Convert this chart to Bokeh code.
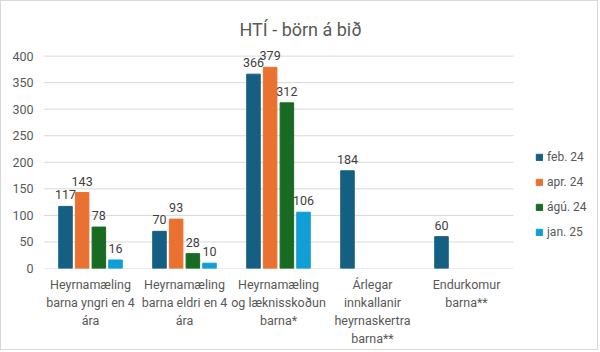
import math
from bokeh.plotting import figure
from bokeh.models import Range1d, ColumnDataSource, Legend, LegendItem, FixedTicker
from bokeh.embed import file_html
from bokeh.resources import INLINE
from bokeh.core.properties import value

categories = [
    "Heyrnamæling\nbarna yngri en 4\nára",
    "Heyrnamæling\nbarna eldri en 4\nára",
    "Heyrnamæling\nog læknisskoðun\nbarna*",
    "Árlegar\ninnkallanir\nheyrnaskertra\nbarna**",
    "Endurkomur\nbarna**",
]
series_names = ["feb. 24", "apr. 24", "ágú. 24", "jan. 25"]
feb_24 = [117, 70, 366, 184, 60]
apr_24 = [143, 93, 379, float("nan"), float("nan")]
agu_24 = [78, 28, 312, float("nan"), float("nan")]
jan_25 = [16, 10, 106, float("nan"), float("nan")]
series_values = [feb_24, apr_24, agu_24, jan_25]
y_ticks = [0, 50, 100, 150, 200, 250, 300, 350, 400]
colors = ["#156082", "#E97132", "#196B24", "#0F9ED5"]
offsets = [-0.266, -0.089, 0.089, 0.266]

FONT = "Roboto"
n = len(categories)
centers = [i + 0.5 for i in range(n)]

# plot area: categories occupy 470px; the frame also spans the legend area
cat_px = 470.0
frame_px = 556.0
p = figure(
    x_range=Range1d(0, n * frame_px / cat_px),
    y_range=Range1d(0, 420),
    width=598, height=350,
    output_backend="svg", toolbar_location=None,
    min_border_left=42, min_border_right=0,
    min_border_top=44, min_border_bottom=83,
)
p.styles = {"border": "1px solid #d9d9d9"}
p.outline_line_color = None
p.background_fill_color = "white"
p.border_fill_color = "white"

p.title.text = "HTÍ - börn á bið"
p.title.align = "left"
p.title.offset = 196
p.title.text_font = FONT
p.title.text_font_size = "18px"
p.title.text_font_style = "normal"
p.title.text_color = "#595959"
p.title.standoff = 12

p.xgrid.grid_line_color = None
p.ygrid.grid_line_color = None
# horizontal gridlines limited to the category area
p.segment(x0=[0] * len(y_ticks), x1=[n] * len(y_ticks), y0=y_ticks, y1=y_ticks,
          line_color="#d9d9d9", line_width=1)

p.yaxis.ticker = FixedTicker(ticks=y_ticks)
p.xaxis.ticker = FixedTicker(ticks=centers)
p.xaxis.major_label_overrides = {c: lab for c, lab in zip(centers, categories)}
for ax in (p.xaxis, p.yaxis):
    ax.axis_line_color = None
    ax.major_tick_line_color = None
    ax.minor_tick_line_color = None
    ax.major_tick_out = 0
    ax.major_tick_in = 0
    ax.minor_tick_out = 0
    ax.major_label_text_font = FONT
    ax.major_label_text_font_size = "12.5px"
    ax.major_label_text_color = "#595959"
p.yaxis.major_label_standoff = 10
p.xaxis.major_label_standoff = 8

items = []
for name, vals, col, off in zip(series_names, series_values, colors, offsets):
    xs = [c + off for c in centers]
    src = ColumnDataSource(dict(x=xs, top=vals))
    r = p.vbar(x="x", top="top", width=0.144, source=src,
               fill_color=col, line_color=col)
    items.append(LegendItem(label=name, renderers=[r]))
    lx = [x for x, v in zip(xs, vals) if not math.isnan(v)]
    ly = [v for v in vals if not math.isnan(v)]
    lsrc = ColumnDataSource(dict(x=lx, y=ly, t=[str(int(v)) for v in ly]))
    p.text(x="x", y="y", text="t", source=lsrc,
           text_align="center", text_baseline="bottom", y_offset=-7,
           text_font=value(FONT), text_font_size="12.5px", text_color="#404040")

legend = Legend(items=items, location=(492, 29))
legend.border_line_color = None
legend.background_fill_alpha = 0
legend.glyph_width = 8
legend.glyph_height = 8
legend.label_height = 14
legend.label_text_font = FONT
legend.label_text_font_size = "12px"
legend.label_text_color = "#595959"
legend.label_standoff = 4
legend.spacing = 11
legend.padding = 0
legend.margin = 0
p.add_layout(legend, "center")

open("out.html", "w").write(file_html(p, INLINE))
